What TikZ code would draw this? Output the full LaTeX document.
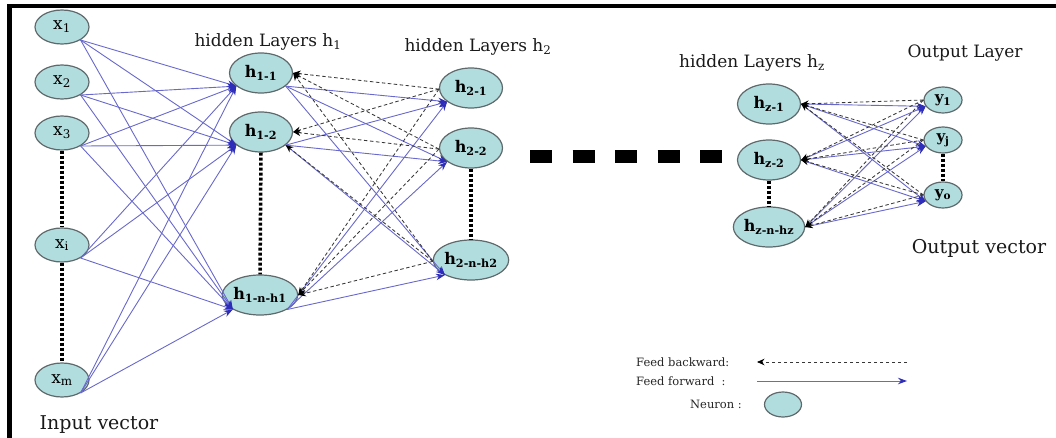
\documentclass[tikz,border=0pt]{standalone}
\usepackage{fontspec}
\setmainfont{DejaVu Serif}
\usetikzlibrary{shapes.geometric,arrows.meta}
\definecolor{neuronfill}{RGB}{178,221,223}
\definecolor{neuronedge}{RGB}{95,105,107}
\definecolor{fwdline}{RGB}{105,105,205}
\definecolor{fwdtip}{RGB}{45,45,185}
\definecolor{bwdline}{RGB}{55,55,55}
\tikzset{
  neuron/.style={ellipse, draw=neuronedge, fill=neuronfill, line width=1.2pt, inner sep=0pt, text=black},
  inneuron/.style={neuron, minimum width=54pt, minimum height=34pt, font=\fontsize{17}{17}\selectfont},
  hidneuron/.style={neuron, minimum width=63pt, minimum height=40pt, font=\fontsize{16}{16}\selectfont\bfseries},
  outneuron/.style={neuron, minimum width=38pt, minimum height=26pt, font=\fontsize{15}{15}\selectfont\bfseries},
  fwd/.style={draw=fwdline, line width=0.9pt, -{Stealth[length=9pt,width=6.5pt,color=fwdtip]}},
  bwd/.style={draw=bwdline, line width=0.85pt, dash pattern=on 3.5pt off 2.5pt, -{Stealth[length=7.5pt,width=6.5pt,color=black]}},
  vdots/.style={draw=black, line width=3.5pt, dash pattern=on 3pt off 2pt},
  bigdots/.style={draw=black, line width=13pt, dash pattern=on 22pt off 20.5pt},
  header/.style={font=\fontsize{17}{17}\selectfont, text=black!90, inner sep=0pt},
  vectortext/.style={font=\fontsize{19}{19}\selectfont, text=black!90, inner sep=0pt},
  legendtext/.style={font=\fontsize{11.5}{11.5}\selectfont, text=black!85, inner sep=0pt},
}
\begin{document}
\begin{tikzpicture}[x=1pt, y=-1pt]
\useasboundingbox (0,0) rectangle (1056,438);

% frame edges
\draw[line width=4.5pt] (9.5,438) -- (9.5,6) -- (1056,6);

% input layer
\node[inneuron] (x1) at (62,27)  {x\textsubscript{1}};
\node[inneuron] (x2) at (62,82)  {x\textsubscript{2}};
\node[inneuron] (x3) at (62,133) {x\textsubscript{3}};
\node[inneuron] (xi) at (62,245) {x\textsubscript{i}};
\node[inneuron] (xm) at (62,380) {x\textsubscript{m}};

% first hidden layer
\node[hidneuron] (h11) at (261,73)  {h\textsubscript{1-1}};
\node[hidneuron] (h12) at (261,132) {h\textsubscript{1-2}};
\node[hidneuron] (h1n) at (260,295) {h\textsubscript{1-n-h1}};

% second hidden layer
\node[hidneuron] (h21) at (471,88)  {h\textsubscript{2-1}};
\node[hidneuron] (h22) at (471,148) {h\textsubscript{2-2}};
\node[hidneuron] (h2n) at (471,260) {h\textsubscript{2-n-h2}};

% last hidden layer
\node[hidneuron] (hz1) at (769,104) {h\textsubscript{z-1}};
\node[hidneuron] (hz2) at (769,160) {h\textsubscript{z-2}};
\node[hidneuron] (hzn) at (769,227) {h\textsubscript{z-n-hz}};

% output layer
\node[outneuron] (y1) at (943,100) {y\textsubscript{1}};
\node[outneuron] (yj) at (943,140) {y\textsubscript{j}};
\node[outneuron] (yo) at (943,195) {y\textsubscript{o}};

% layer titles
\node[header] (t1) at (268,42)  {hidden Layers h\textsubscript{1}};
\node[header] (t2) at (478,47)  {hidden Layers h\textsubscript{2}};
\node[header] (tz) at (752,63)  {hidden Layers h\textsubscript{z}};
\node[header] (to) at (965,53)  {Output Layer};
\node[vectortext] (vo) at (979,248) {Output vector};
\node[vectortext] (vi) at (99,425)  {Input vector};

% elided neurons within a layer
\draw[vdots] (x3.south) -- (xi.north);
\draw[vdots] (xi.south) -- (xm.north);
\draw[vdots] (h12.south) -- (h1n.north);
\draw[vdots] (h22.south) -- (h2n.north);
\draw[vdots] (hz2.south) -- (hzn.north);
\draw[vdots] (yj.south) -- (yo.north);

% elided layers
\coordinate (gapA) at (530,156.5);
\coordinate (gapB) at (722,156.5);
\draw[bigdots] (gapA) -- (gapB);

% feed forward: input -> h1
\foreach \s in {x1,x2,x3,xi,xm}
  \foreach \t in {h11,h12,h1n}
    \draw[fwd] (\s.-35) -- (\t.208);

% feed forward: h1 -> h2
\foreach \s in {h11,h12,h1n}
  \foreach \t in {h21,h22,h2n}
    \draw[fwd] (\s.-28) -- (\t.210);

% feed backward: h2 -> h1
\foreach \s/\t/\a in {h21/h11/0, h21/h12/0, h21/h1n/0,
                      h22/h11/0, h22/h12/0, h22/h1n/0,
                      h2n/h11/0, h2n/h12/-28, h2n/h1n/0}
  \draw[bwd] (\s.182) -- (\t.\a);

% feed forward: hz -> output
\foreach \s in {hz1,hz2,hzn}
  \foreach \t in {y1,yj,yo}
    \draw[fwd] (\s.east) -- (\t.200);

% feed backward: output -> hz
\foreach \s in {y1,yj,yo}
  \foreach \t in {hz1,hz2,hzn}
    \draw[bwd] (\s.west) -- (\t.east);

% legend
\node[legendtext, anchor=west] (lbwd) at (636,362) {Feed backward:};
\node[legendtext, anchor=west] (lfwd) at (636,381) {Feed forward\ \ :};
\node[legendtext, anchor=east] (lneu) at (742,404) {Neuron :};
\coordinate (bwdA) at (907,362);
\coordinate (bwdB) at (757,362);
\coordinate (fwdA) at (757,381);
\coordinate (fwdB) at (907,381);
\draw[bwd] (bwdA) -- (bwdB);
\draw[fwd] (fwdA) -- (fwdB);
\node[neuron, minimum width=37pt, minimum height=25pt] (lneuron) at (783,404.5) {};
\end{tikzpicture}
\end{document}
